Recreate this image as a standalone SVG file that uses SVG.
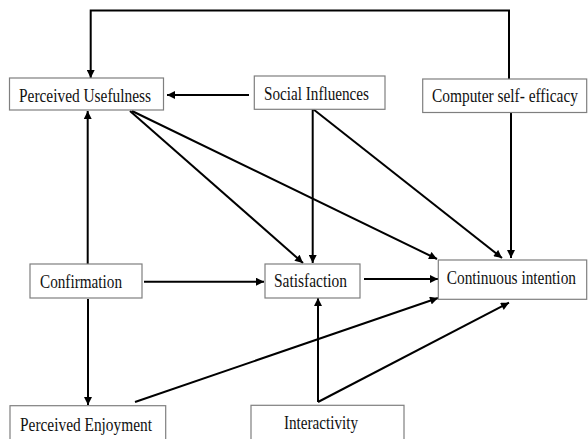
<svg xmlns="http://www.w3.org/2000/svg" width="588" height="439" viewBox="0 0 588 439">
<style>
.box{fill:#fff;stroke:#7f7f7f;stroke-width:1.2}
.lbl{font-family:"Liberation Serif","Times New Roman",serif;font-size:16px;fill:#111}
.c{fill:none;stroke:#000;stroke-width:2}
</style>
<defs>
<marker id="ah" viewBox="0 0 10 10" refX="10" refY="5" markerWidth="9" markerHeight="8" markerUnits="userSpaceOnUse" orient="auto">
<path d="M0,0 L10,5 L0,10 z" fill="#000"/>
</marker>
</defs>
<rect width="588" height="439" fill="#fff"/>
<g id="connectors">
<polyline class="c" points="509,79 509,10.5 90.7,10.5 90.7,78" marker-end="url(#ah)"/>
<line class="c" x1="249" y1="95" x2="167" y2="95" marker-end="url(#ah)"/>
<line class="c" x1="87.7" y1="264" x2="87.7" y2="111" marker-end="url(#ah)"/>
<line class="c" x1="130" y1="111" x2="303" y2="263" marker-end="url(#ah)"/>
<line class="c" x1="132" y1="111" x2="437" y2="259" marker-end="url(#ah)"/>
<line class="c" x1="312.7" y1="109" x2="312.7" y2="263" marker-end="url(#ah)"/>
<line class="c" x1="313" y1="109" x2="502" y2="258" marker-end="url(#ah)"/>
<line class="c" x1="511" y1="113" x2="511" y2="258" marker-end="url(#ah)"/>
<line class="c" x1="144" y1="281.7" x2="264" y2="281.7" marker-end="url(#ah)"/>
<line class="c" x1="364" y1="279" x2="438" y2="279" marker-end="url(#ah)"/>
<line class="c" x1="88" y1="299" x2="88" y2="405" marker-end="url(#ah)"/>
<line class="c" x1="135" y1="402" x2="438" y2="298" marker-end="url(#ah)"/>
<line class="c" x1="318" y1="402" x2="318" y2="298" marker-end="url(#ah)"/>
<line class="c" x1="318" y1="402" x2="509" y2="302.7" marker-end="url(#ah)"/>
</g>
<g id="perceived-usefulness">
<rect class="box" x="9.5" y="78" width="154" height="32"/>
<text class="lbl" transform="translate(19,101.5) scale(1,1.12)" textLength="132" lengthAdjust="spacingAndGlyphs">Perceived Usefulness</text>
</g>
<g id="social-influences">
<rect class="box" x="254.3" y="76" width="130.7" height="33.3"/>
<text class="lbl" transform="translate(264,100) scale(1,1.12)" textLength="105" lengthAdjust="spacingAndGlyphs">Social Influences</text>
</g>
<g id="computer-self-efficacy">
<rect class="box" x="422.7" y="79" width="164" height="33.5"/>
<text class="lbl" transform="translate(432,101.7) scale(1,1.12)" textLength="146" lengthAdjust="spacingAndGlyphs">Computer self- efficacy</text>
</g>
<g id="confirmation">
<rect class="box" x="30" y="264" width="112" height="34"/>
<text class="lbl" transform="translate(40,288) scale(1,1.12)" textLength="82" lengthAdjust="spacingAndGlyphs">Confirmation</text>
</g>
<g id="satisfaction">
<rect class="box" x="265" y="264" width="95" height="34"/>
<text class="lbl" transform="translate(274,287) scale(1,1.12)" textLength="73" lengthAdjust="spacingAndGlyphs">Satisfaction</text>
</g>
<g id="continuous-intention">
<rect class="box" x="438.3" y="260" width="148.4" height="39.3"/>
<text class="lbl" transform="translate(446.7,284) scale(1,1.12)" textLength="129.3" lengthAdjust="spacingAndGlyphs">Continuous intention</text>
</g>
<g id="perceived-enjoyment">
<rect class="box" x="10" y="405.7" width="155.7" height="40"/>
<text class="lbl" transform="translate(20,430.5) scale(1,1.12)" textLength="132" lengthAdjust="spacingAndGlyphs">Perceived Enjoyment</text>
</g>
<g id="interactivity">
<rect class="box" x="251" y="405.3" width="153" height="40"/>
<text class="lbl" transform="translate(284,429) scale(1,1.12)" textLength="74" lengthAdjust="spacingAndGlyphs">Interactivity</text>
</g>
</svg>
